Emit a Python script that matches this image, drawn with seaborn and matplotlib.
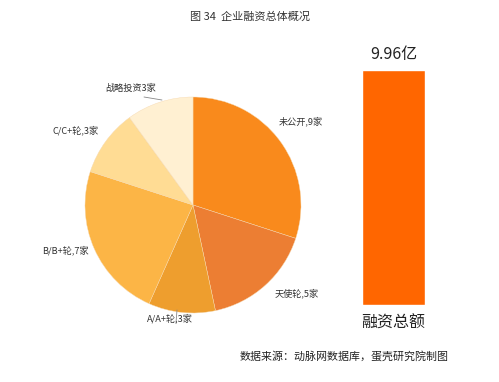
import matplotlib
matplotlib.use("Agg")
import matplotlib.pyplot as plt
import seaborn as sns
import pandas as pd

sns.set_theme(style="white")
plt.rcParams['font.family'] = ['Noto Sans CJK SC', 'DejaVu Sans']

categories = ["未公开", "天使轮", "A/A+轮", "B/B+轮", "C/C+轮", "战略投资"]
counts = [9, 5, 3, 7, 3, 3]
pie_labels = ["未公开,9家", "天使轮,5家", "A/A+轮,3家", "B/B+轮,7家", "C/C+轮,3家", "战略投资3家"]
pie_colors = ["#F98A1C", "#EC7E33", "#EE9E2E", "#FCB546", "#FFDC94", "#FFF0D2"]

bar_label = ["融资总额"]
bar_value = [9.96]
bar_value_text = "9.96亿"

W, H = 499, 382
fig = plt.figure(figsize=(W / 100, H / 100), dpi=100)
fig.patch.set_facecolor("white")

# Pie
cx, cy, r = 193, 205, 108
ax = fig.add_axes([(cx - r) / W, (H - cy - r) / H, 2 * r / W, 2 * r / H])
wedges, _ = ax.pie(counts, colors=pie_colors, startangle=90, counterclock=False,
                   radius=1, wedgeprops=dict(linewidth=0.3, edgecolor="#F6D9B0"))
ax.set_xlim(-1, 1)
ax.set_ylim(-1, 1)
ax.set_aspect("equal")
ax.axis("off")

def px(x, y):
    return ((x - (cx - r)) / (2 * r) * 2 - 1, 1 - (y - (cy - r)) / (2 * r) * 2)

label_pos = [(301, 121, "center"), (297, 293, "center"), (170, 318, "center"),
             (65, 250, "center"), (76, 130, "center"), (131, 88, "center")]
for lab, (x, y, ha) in zip(pie_labels, label_pos):
    X, Y = px(x, y)
    ax.text(X, Y, lab, ha=ha, va="center", fontsize=6.6, color="#333333")

# leader lines
for (x1, y1), (x2, y2) in [((144, 97), (162, 100)), ((177, 310), (176, 323))]:
    X1, Y1 = px(x1, y1)
    X2, Y2 = px(x2, y2)
    ax.plot([X1, X2], [Y1, Y2], color="#888888", lw=0.6, clip_on=False)

# Bar
bl, br, bt, bb = 362, 425, 70, 305
ax2 = fig.add_axes([bl / W, (H - bb) / H, (br - bl) / W, (bb - bt) / H])
df = pd.DataFrame({"label": bar_label, "value": bar_value})
sns.barplot(data=df, x="label", y="value", ax=ax2, color="#FF6600",
            saturation=1, width=1.0)
ax2.set_xlim(-0.5, 0.5)
ax2.set_ylim(0, bar_value[0])
ax2.axis("off")
fig.text((bl + br) / 2 / W, 1 - 55 / H, bar_value_text, ha="center", va="center",
         fontsize=11.5, color="#222222")
fig.text((bl + br) / 2 / W, 1 - 323 / H, bar_label[0], ha="center", va="center",
         fontsize=11.5, color="#222222")

fig.text(250 / W, 1 - 17 / H, "图 34  企业融资总体概况", ha="center", va="center",
         fontsize=8, color="#333333")
fig.text(449 / W, 1 - 356 / H, "数据来源：动脉网数据库，蛋壳研究院制图", ha="right",
         va="center", fontsize=7.9, color="#222222")

fig.savefig("out.png", dpi=100, facecolor="white")
